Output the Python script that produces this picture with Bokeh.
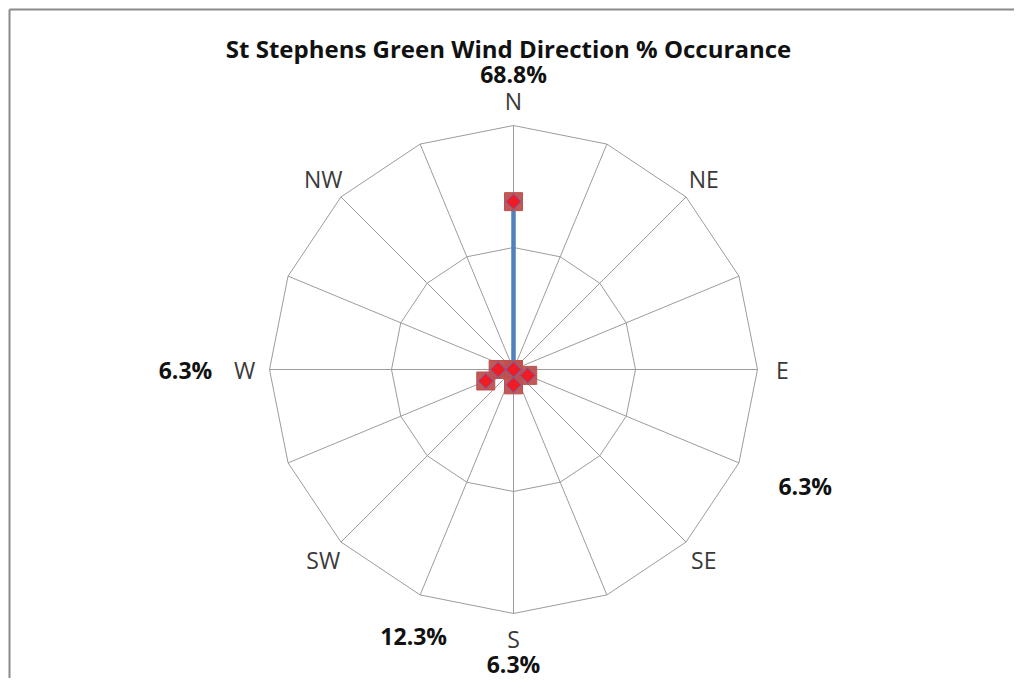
import numpy as np
from bokeh.plotting import figure
from bokeh.models import ColumnDataSource, Range1d
from bokeh.core.properties import value
from bokeh.embed import file_html
from bokeh.resources import INLINE

# ---------------- data ----------------
directions = ["N", "NNE", "NE", "ENE", "E", "ESE", "SE", "SSE",
              "S", "SSW", "SW", "WSW", "W", "WNW", "NW", "NNW"]
occurrence = [68.8, 0, 0, 0, 0, 6.3, 0, 0,
              6.3, 0, 0, 12.3, 6.3, 0, 0, 0]
shown_direction_labels = ["N", "NE", "E", "SE", "S", "SW", "W", "NW"]
ring_values = [50, 100]
axis_max = 100
title_text = "St Stephens Green Wind Direction % Occurance"

# ---------------- layout ----------------
W, H = 1014, 678
CX, CY = 513, 369                 # centre in figure pixels (from top-left)
R = 244                           # pixels per axis_max

def px(xp, yp):
    """figure pixel (from top-left) -> data coords (1 unit = axis_max)"""
    return (xp - CX) / R, (CY - yp) / R

x0, y1 = px(0, 0)
x1, y0 = px(W, H)

p = figure(width=W, height=H, output_backend="svg", toolbar_location=None,
           x_range=Range1d(x0, x1), y_range=Range1d(y0, y1),
           min_border=0, min_border_left=0, min_border_top=0,
           min_border_right=0, min_border_bottom=0)
p.axis.visible = False
p.grid.visible = False
p.outline_line_color = None
p.border_fill_color = "white"
p.background_fill_color = "white"

# chart-area frame (left and top edges visible)
fl, ft = px(9, 9)
fr, fb = px(W + 5, H + 5)
p.segment(x0=[fl, fl], y0=[ft, ft], x1=[fr, fl], y1=[ft, fb],
          line_color="#8a8a8a", line_width=2)

n = len(directions)
bearing = np.arange(n) * 2 * np.pi / n
sx, sy = np.sin(bearing), np.cos(bearing)

grid_col = "#9c9c9c"
# spokes
p.segment(x0=np.zeros(n), y0=np.zeros(n), x1=sx, y1=sy,
          line_color=grid_col, line_width=1)
# rings
for rv in ring_values:
    rr = rv / axis_max
    p.line(np.append(sx, sx[0]) * rr, np.append(sy, sy[0]) * rr,
           line_color=grid_col, line_width=1)

# direction labels
lab_r = 269 / R
idx = [directions.index(d) for d in shown_direction_labels]
p.text(x=sx[idx] * lab_r, y=sy[idx] * lab_r, text=shown_direction_labels,
       text_align="center", text_baseline="middle",
       text_font=value("Open Sans"), text_font_size="23px", text_color="#3a3a3a")

# series
vals = np.array(occurrence) / axis_max
xs, ys = sx * vals, sy * vals
src = ColumnDataSource(dict(x=xs, y=ys))
p.line(np.append(xs, xs[0]), np.append(ys, ys[0]),
       line_color="#4f81bd", line_width=4.5, line_join="round")
p.scatter("x", "y", source=src, marker="square", size=18,
          fill_color="#c0504d", line_color="#c0504d", fill_alpha=0.95)
p.scatter("x", "y", source=src, marker="square", size=11, angle=np.pi / 4,
          fill_color="#ee1c25", line_color="#5a6fc0", line_width=1)

# data labels (placement: bearing in degrees, radius in pixels)
label_place = {"N": (0, 296), "ESE": (111.7, 314), "S": (180, 294),
               "WSW": (200.5, 285), "W": (270, 328)}
for d, v in zip(directions, occurrence):
    if v > 0:
        b, rp = label_place[d]
        b = np.radians(b)
        p.text(x=[np.sin(b) * rp / R], y=[np.cos(b) * rp / R], text=[f"{v:.1f}%"],
               text_align="center", text_baseline="middle",
               text_font=value("Open Sans"), text_font_style="bold",
               text_font_size="23px", text_color="#111111")

# title
tx, ty = px(508, 48)
p.text(x=[tx], y=[ty], text=[title_text], text_align="center",
       text_baseline="middle", text_font=value("Open Sans"),
       text_font_style="bold", text_font_size="24px", text_color="#111111")

open("out.html", "w").write(file_html(p, INLINE))
